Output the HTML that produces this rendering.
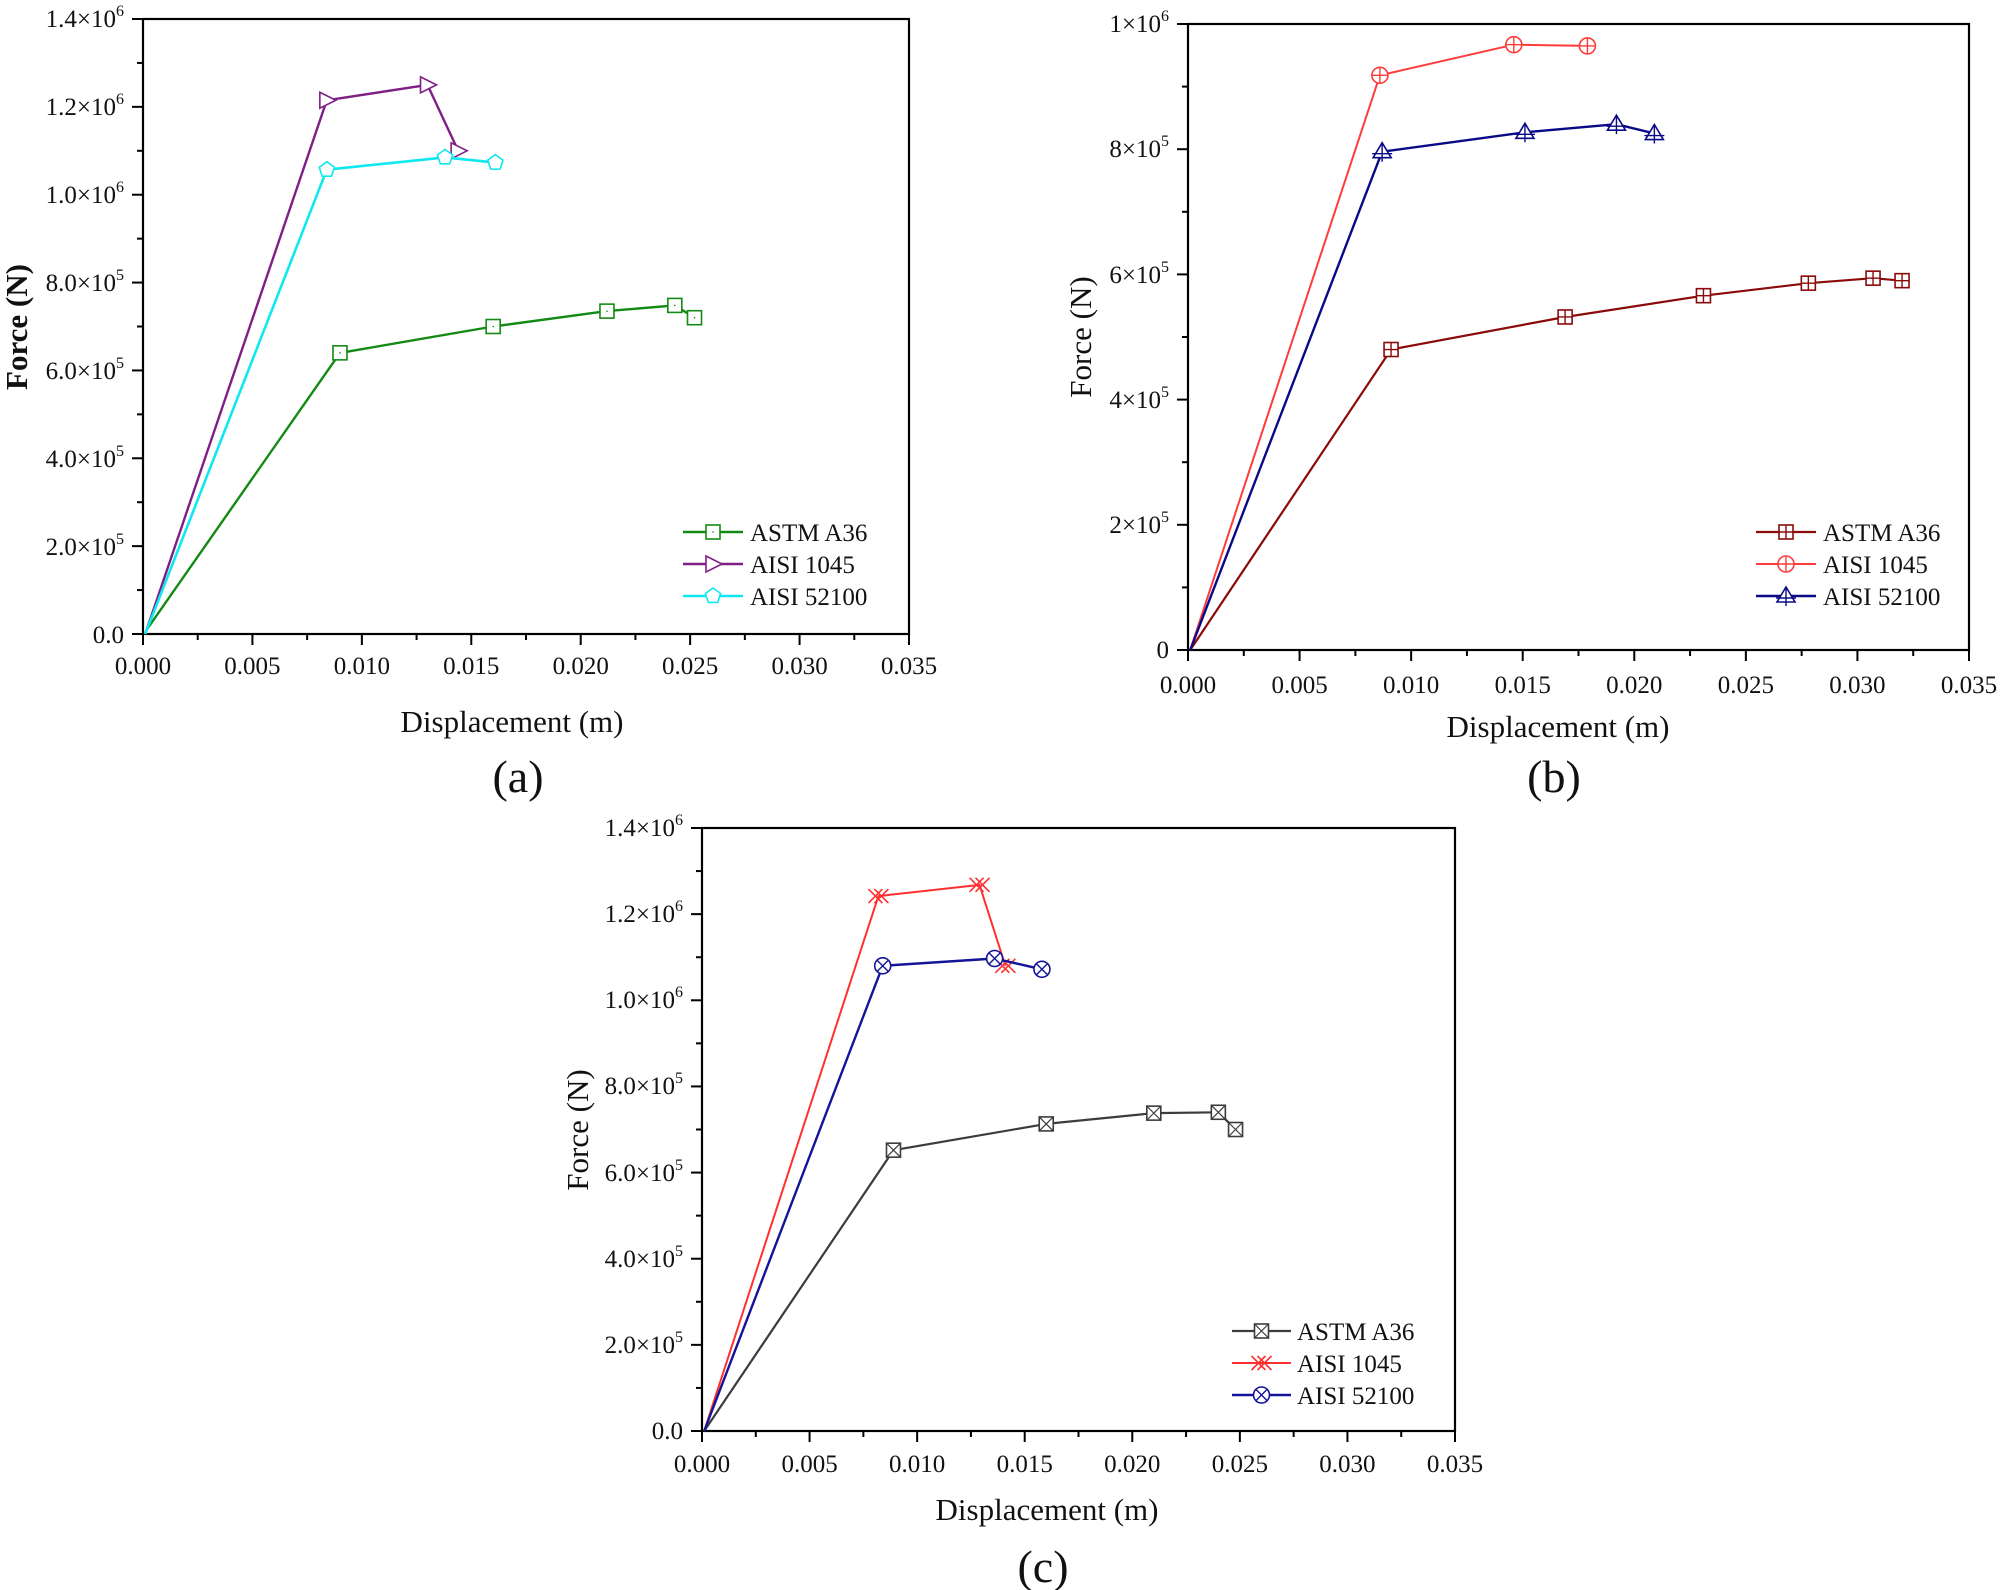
<!DOCTYPE html>
<html><head><meta charset="utf-8"><style>
html,body{margin:0;padding:0;background:#fff;}
svg{display:block;font-family:"Liberation Serif",serif;}
.t{font-size:25px;fill:#111;}
.l{font-size:31px;fill:#111;}
.lg{font-size:25px;fill:#111;}
.p{font-size:46px;fill:#111;}
</style></head><body>
<svg id="s" width="2000" height="1590" viewBox="0 0 2000 1590" xmlns="http://www.w3.org/2000/svg">
<rect width="2000" height="1590" fill="#fff"/>
<g id="g"></g>
<!-- Panel a text -->
<g class="t" text-anchor="middle">
<text x="143" y="674">0.000</text><text x="252.4" y="674">0.005</text><text x="361.9" y="674">0.010</text><text x="471.3" y="674">0.015</text><text x="580.7" y="674">0.020</text><text x="690.1" y="674">0.025</text><text x="799.6" y="674">0.030</text><text x="909" y="674">0.035</text>
</g>
<g class="t" text-anchor="end">
<text x="124" y="643">0.0</text>
<text x="124" y="555">2.0×10<tspan font-size="16" dy="-11">5</tspan></text>
<text x="124" y="467">4.0×10<tspan font-size="16" dy="-11">5</tspan></text>
<text x="124" y="379">6.0×10<tspan font-size="16" dy="-11">5</tspan></text>
<text x="124" y="291">8.0×10<tspan font-size="16" dy="-11">5</tspan></text>
<text x="124" y="203">1.0×10<tspan font-size="16" dy="-11">6</tspan></text>
<text x="124" y="115">1.2×10<tspan font-size="16" dy="-11">6</tspan></text>
<text x="124" y="27">1.4×10<tspan font-size="16" dy="-11">6</tspan></text>
</g>
<text class="l" x="512" y="732" text-anchor="middle">Displacement (m)</text>
<text class="l" font-weight="bold" transform="translate(27,327) rotate(-90)" text-anchor="middle">Force (N)</text>
<text class="p" x="518" y="792" text-anchor="middle">(a)</text>
<g class="lg"><text x="750" y="541">ASTM A36</text><text x="750" y="573">AISI 1045</text><text x="750" y="605">AISI 52100</text></g>

<!-- Panel b text -->
<g class="t" text-anchor="middle">
<text x="1188" y="693">0.000</text><text x="1299.6" y="693">0.005</text><text x="1411.1" y="693">0.010</text><text x="1522.7" y="693">0.015</text><text x="1634.3" y="693">0.020</text><text x="1745.9" y="693">0.025</text><text x="1857.4" y="693">0.030</text><text x="1969" y="693">0.035</text>
</g>
<g class="t" text-anchor="end">
<text x="1169" y="658">0</text>
<text x="1169" y="533">2×10<tspan font-size="16" dy="-11">5</tspan></text>
<text x="1169" y="408">4×10<tspan font-size="16" dy="-11">5</tspan></text>
<text x="1169" y="283">6×10<tspan font-size="16" dy="-11">5</tspan></text>
<text x="1169" y="157">8×10<tspan font-size="16" dy="-11">5</tspan></text>
<text x="1169" y="32">1×10<tspan font-size="16" dy="-11">6</tspan></text>
</g>
<text class="l" x="1558" y="737" text-anchor="middle">Displacement (m)</text>
<text class="l" transform="translate(1091,337) rotate(-90)" text-anchor="middle">Force (N)</text>
<text class="p" x="1554" y="792" text-anchor="middle">(b)</text>
<g class="lg"><text x="1823" y="541">ASTM A36</text><text x="1823" y="573">AISI 1045</text><text x="1823" y="605">AISI 52100</text></g>

<!-- Panel c text -->
<g class="t" text-anchor="middle">
<text x="702" y="1472">0.000</text><text x="809.6" y="1472">0.005</text><text x="917.1" y="1472">0.010</text><text x="1024.7" y="1472">0.015</text><text x="1132.3" y="1472">0.020</text><text x="1239.9" y="1472">0.025</text><text x="1347.4" y="1472">0.030</text><text x="1455" y="1472">0.035</text>
</g>
<g class="t" text-anchor="end">
<text x="683" y="1439">0.0</text>
<text x="683" y="1353">2.0×10<tspan font-size="16" dy="-11">5</tspan></text>
<text x="683" y="1267">4.0×10<tspan font-size="16" dy="-11">5</tspan></text>
<text x="683" y="1181">6.0×10<tspan font-size="16" dy="-11">5</tspan></text>
<text x="683" y="1094">8.0×10<tspan font-size="16" dy="-11">5</tspan></text>
<text x="683" y="1008">1.0×10<tspan font-size="16" dy="-11">6</tspan></text>
<text x="683" y="922">1.2×10<tspan font-size="16" dy="-11">6</tspan></text>
<text x="683" y="836">1.4×10<tspan font-size="16" dy="-11">6</tspan></text>
</g>
<text class="l" x="1047" y="1520" text-anchor="middle">Displacement (m)</text>
<text class="l" transform="translate(588,1130) rotate(-90)" text-anchor="middle">Force (N)</text>
<text class="p" x="1043" y="1582" text-anchor="middle">(c)</text>
<g class="lg"><text x="1297" y="1340">ASTM A36</text><text x="1297" y="1372">AISI 1045</text><text x="1297" y="1404">AISI 52100</text></g>
</svg>
<script>
(function(){
var g=document.getElementById('g'),NS='http://www.w3.org/2000/svg',h='';
function panel(L,R,T,B,xmax,ymax,ny,minor){
  h+='<rect x="'+L+'" y="'+T+'" width="'+(R-L)+'" height="'+(B-T)+'" fill="none" stroke="#000" stroke-width="2.2"/>';
  for(var i=0;i<=14;i++){var x=L+(R-L)*i/14;h+='<line x1="'+x+'" y1="'+B+'" x2="'+x+'" y2="'+(B+(i%2?6:11))+'" stroke="#000" stroke-width="2"/>';}
  var n=ny*minor;for(var j=0;j<=n;j++){var y=B-(B-T)*j/n;h+='<line x1="'+L+'" y1="'+y+'" x2="'+(L-(j%minor?6:11))+'" y2="'+y+'" stroke="#000" stroke-width="2"/>';}
}
function mk(type,x,y,c){
  var s=7,o='fill="#fff" stroke="'+c+'" stroke-width="1.6"';
  switch(type){
  case 'sq':return '<rect x="'+(x-s)+'" y="'+(y-s)+'" width="'+2*s+'" height="'+2*s+'" '+o+'/><circle cx="'+x+'" cy="'+y+'" r="0.8" fill="'+c+'"/>';
  case 'rt':return '<polygon points="'+(x-s)+','+(y-s-1)+' '+(x+s+2)+','+y+' '+(x-s)+','+(y+s+1)+'" '+o+'/>';
  case 'pent':var p=[];for(var k=0;k<5;k++){var a=-Math.PI/2+k*2*Math.PI/5;p.push((x+8*Math.cos(a))+','+(y+8*Math.sin(a)));}return '<polygon points="'+p.join(' ')+'" '+o+'/>';
  case 'sqp':return '<rect x="'+(x-s)+'" y="'+(y-s)+'" width="'+2*s+'" height="'+2*s+'" '+o+'/><path d="M'+(x-s)+' '+y+'H'+(x+s)+'M'+x+' '+(y-s)+'V'+(y+s)+'" stroke="'+c+'" stroke-width="1.4"/>';
  case 'cp':return '<circle cx="'+x+'" cy="'+y+'" r="'+(s+1)+'" '+o+'/><path d="M'+(x-s-1)+' '+y+'H'+(x+s+1)+'M'+x+' '+(y-s-1)+'V'+(y+s+1)+'" stroke="'+c+'" stroke-width="1.4"/>';
  case 'tri':return '<polygon points="'+x+','+(y-s-2)+' '+(x+s+2)+','+(y+s-1)+' '+(x-s-2)+','+(y+s-1)+'" '+o+'/><path d="M'+(x-s-3)+' '+(y+2)+'H'+(x+s+3)+'M'+x+' '+(y-s-2)+'V'+(y+s+3)+'" stroke="'+c+'" stroke-width="1.4"/>';
  case 'sqx':return '<rect x="'+(x-s)+'" y="'+(y-s)+'" width="'+2*s+'" height="'+2*s+'" '+o+'/><path d="M'+(x-s)+' '+(y-s)+'L'+(x+s)+' '+(y+s)+'M'+(x+s)+' '+(y-s)+'L'+(x-s)+' '+(y+s)+'" stroke="'+c+'" stroke-width="1.2"/>';
  case 'xx':return '<path d="M'+(x-s-3)+' '+(y-s)+'L'+(x+s-3)+' '+(y+s)+'M'+(x+s-3)+' '+(y-s)+'L'+(x-s-3)+' '+(y+s)+'M'+(x-s+3)+' '+(y-s)+'L'+(x+s+3)+' '+(y+s)+'M'+(x+s+3)+' '+(y-s)+'L'+(x-s+3)+' '+(y+s)+'" stroke="'+c+'" stroke-width="1.6" fill="none"/>';
  case 'cx':return '<circle cx="'+x+'" cy="'+y+'" r="'+(s+1)+'" '+o+'/><path d="M'+(x-5.5)+' '+(y-5.5)+'L'+(x+5.5)+' '+(y+5.5)+'M'+(x+5.5)+' '+(y-5.5)+'L'+(x-5.5)+' '+(y+5.5)+'" stroke="'+c+'" stroke-width="1.4"/>';
  }
}
function series(L,R,T,B,xmax,ymax,pts,c,type,lw,legY,lx1,lx2){
  var X=function(v){return L+(R-L)*v/xmax},Y=function(v){return B-(B-T)*v/ymax};
  var d=pts.map(function(p,i){return (i?'L':'M')+X(p[0]).toFixed(1)+' '+Y(p[1]).toFixed(1)}).join('');
  h+='<path d="'+d+'" fill="none" stroke="'+c+'" stroke-width="'+lw+'" stroke-linejoin="round"/>';
  pts.forEach(function(p,i){if(i>0)h+=mk(type,X(p[0]),Y(p[1]),c);});
  h+='<line x1="'+lx1+'" y1="'+legY+'" x2="'+lx2+'" y2="'+legY+'" stroke="'+c+'" stroke-width="'+lw+'"/>'+mk(type,(lx1+lx2)/2,legY,c);
}
// a
panel(143,909,19,634,0.035,1.4e6,7,2);
var A=[143,909,19,634,0.035,1.4e6];
series.apply(null,A.concat([[[0.0002,1.2e4],[0.009,6.4e5],[0.016,7.0e5],[0.0212,7.35e5],[0.0243,7.48e5],[0.0252,7.2e5]],'#138a13','sq',2.4,532,683,743]));
series.apply(null,A.concat([[[0.0001,0],[0.0084,1.215e6],[0.013,1.25e6],[0.0144,1.1e6]],'#7f1f86','rt',2.4,564,683,743]));
series.apply(null,A.concat([[[0.0001,0],[0.0084,1.057e6],[0.0138,1.085e6],[0.0161,1.073e6]],'#10e8f0','pent',2.6,596,683,743]));
// b
panel(1188,1969,24,650,0.035,1e6,5,2);
var Bp=[1188,1969,24,650,0.035,1e6];
series.apply(null,Bp.concat([[[0.0001,0],[0.0091,4.8e5],[0.0169,5.32e5],[0.0231,5.66e5],[0.0278,5.86e5],[0.0307,5.94e5],[0.032,5.9e5]],'#8b0a0a','sqp',2.2,532,1756,1816]));
series.apply(null,Bp.concat([[[0.0001,0],[0.0086,9.18e5],[0.0146,9.67e5],[0.0179,9.65e5]],'#ff3b3b','cp',2,564,1756,1816]));
series.apply(null,Bp.concat([[[0.0001,0],[0.0087,7.96e5],[0.0151,8.27e5],[0.0192,8.4e5],[0.0209,8.25e5]],'#0a0a86','tri',2.4,596,1756,1816]));
// c
panel(702,1455,828,1431,0.035,1.4e6,7,2);
var C=[702,1455,828,1431,0.035,1.4e6];
series.apply(null,C.concat([[[0.0001,0],[0.0089,6.52e5],[0.016,7.13e5],[0.021,7.38e5],[0.024,7.4e5],[0.0248,7.0e5]],'#3c3c3c','sqx',2.2,1331,1232,1291]));
series.apply(null,C.concat([[[0.0001,0],[0.0082,1.242e6],[0.0129,1.268e6],[0.0141,1.08e6]],'#ff3030','xx',2,1363,1232,1291]));
series.apply(null,C.concat([[[0.0001,0],[0.0084,1.08e6],[0.0136,1.097e6],[0.0158,1.072e6]],'#14149a','cx',2.4,1395,1232,1291]));
g.innerHTML=h;
})();
</script>
</body></html>
